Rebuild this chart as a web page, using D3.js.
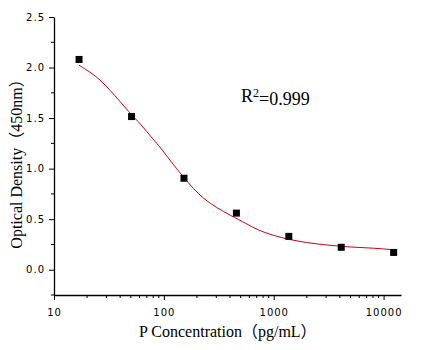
<!DOCTYPE html>
<html>
<head>
<meta charset="utf-8">
<script src="https://cdn.jsdelivr.net/npm/d3@7"></script>
<style>
  body { margin: 0; background: #fff; }
</style>
</head>
<body>
<div id="my_dataviz"></div>
<script>
// standard points (concentration, OD)
var conc = [16.9, 50.8, 152.4, 457.2, 1371.7, 4115.2, 12345.7];
var od = [2.08, 1.515, 0.905, 0.56, 0.33, 0.222, 0.171];

// fitted curve
var curveX = [16.9, 21.3, 26.2, 32.4, 39.9, 51.0, 60.7, 80.2, 92.4, 113.9, 150.5, 185.7, 228.9, 303.2, 400.7, 569, 701, 993, 1380, 2000, 2836, 4027, 5716, 8090, 11900, 12345.7];
var curveY = [2.023, 1.956, 1.881, 1.775, 1.666, 1.528, 1.449, 1.287, 1.214, 1.080, 0.917, 0.802, 0.703, 0.614, 0.538, 0.455, 0.396, 0.338, 0.299, 0.267, 0.248, 0.231, 0.221, 0.214, 0.199, 0.197];

// ticks
var xTicks = [10, 100, 1000, 10000];
var yTicks = [0, 0.5, 1.0, 1.5, 2.0, 2.5];
var yMinor = [-0.25, 0.25, 0.75, 1.25, 1.75, 2.25];

var margin = {top: 17, right: 24, bottom: 55, left: 54},
    width = 425 - margin.left - margin.right,
    height = 350 - margin.top - margin.bottom;

var svg = d3.select("#my_dataviz")
  .append("svg")
    .attr("width", 425)
    .attr("height", 350)
  .append("g")
    .attr("transform", "translate(" + margin.left + "," + margin.top + ")");

var x = d3.scaleLog()
  .domain([10, 14400])
  .range([0, width]);

var y = d3.scaleLinear()
  .domain([-0.25, 2.5])
  .range([height, 0]);

// minor x ticks 20..90, 200..900 ...
var xMinor = [];
xTicks.forEach(function(t) {
  for (var k = 2; k <= 9; k++) {
    if (t * k <= x.domain()[1]) xMinor.push(t * k);
  }
});

// X axis
var xAxis = svg.append("g")
  .attr("transform", "translate(0," + height + ")");
xAxis.call(d3.axisBottom(x).tickValues(xTicks).tickFormat(d3.format("d")).tickSize(5).tickSizeOuter(0))
  .selectAll("text")
    .attr("dy", "1.25em")
    .style("font-family", "DejaVu Sans")
    .style("font-size", "10px")
    .style("letter-spacing", "1px");
xAxis.call(function(g) {
  g.select(".domain").attr("stroke", "#000").attr("stroke-width", 1.3);
  g.selectAll(".tick line").attr("stroke", "#000");
});
xAxis.selectAll(".minor")
  .data(xMinor)
  .enter().append("line")
    .attr("x1", function(d) { return x(d); })
    .attr("x2", function(d) { return x(d); })
    .attr("y1", 0)
    .attr("y2", 3)
    .attr("stroke", "#000");

// Y axis
var yAxis = svg.append("g");
yAxis.call(d3.axisLeft(y).tickValues(yTicks).tickFormat(d3.format(".1f")).tickSize(5).tickSizeOuter(0))
  .selectAll("text")
    .attr("dx", "-0.1em")
    .style("font-family", "DejaVu Sans")
    .style("font-size", "10px")
    .style("letter-spacing", "1px");
yAxis.call(function(g) {
  g.select(".domain").attr("stroke", "#000").attr("stroke-width", 1.3);
  g.selectAll(".tick line").attr("stroke", "#000");
});
yAxis.selectAll(".minor")
  .data(yMinor)
  .enter().append("line")
    .attr("x1", -3)
    .attr("x2", 0)
    .attr("y1", function(d) { return y(d); })
    .attr("y2", function(d) { return y(d); })
    .attr("stroke", "#000");

// fitted curve
var curveData = curveX.map(function(v, i) { return {x: v, y: curveY[i]}; });
svg.append("path")
  .datum(curveData)
  .attr("d", d3.line()
    .x(function(d) { return x(d.x); })
    .y(function(d) { return y(d.y); })
    .curve(d3.curveBasis))
  .attr("fill", "none")
  .attr("stroke", "#cc0010")
  .attr("stroke-width", 1);

// points
var pts = conc.map(function(v, i) { return {x: v, y: od[i]}; });
svg.selectAll(".pt")
  .data(pts)
  .enter().append("rect")
    .attr("x", function(d) { return x(d.x) - 3.5; })
    .attr("y", function(d) { return y(d.y) - 3.5; })
    .attr("width", 7)
    .attr("height", 7)
    .attr("fill", "#000");

// R squared
var r2 = svg.append("text")
  .attr("x", 241 - margin.left)
  .attr("y", 102 - margin.top)
  .style("font-family", "Liberation Serif")
  .style("font-size", "18px");
r2.append("tspan").text("R");
r2.append("tspan").text("2").attr("dy", "-0.45em").style("font-size", "12px");
r2.append("tspan").text("=0.999").attr("dy", "0.45em");

// axis titles
svg.append("text")
  .text("P Concentration（pg/mL）")
  .attr("x", 139 - margin.left)
  .attr("y", 337 - margin.top)
  .style("font-family", "Liberation Serif, 'Noto Sans CJK SC'")
  .style("font-size", "16px");

svg.append("text")
  .text("Optical Density（450nm）")
  .attr("transform", "translate(" + (21.5 - margin.left) + "," + (160 - margin.top) + ") rotate(-90)")
  .attr("text-anchor", "middle")
  .style("font-family", "Liberation Serif, 'Noto Sans CJK SC'")
  .style("font-size", "16px");
</script>
</body>
</html>
